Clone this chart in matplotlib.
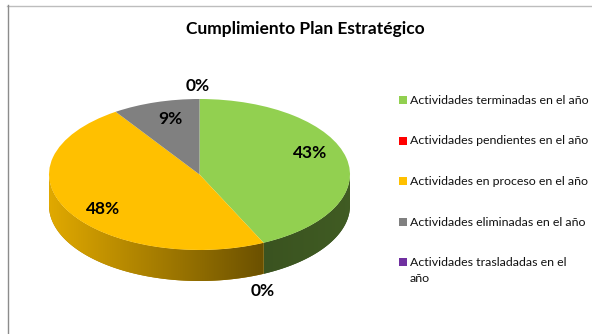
import numpy as np
import matplotlib.pyplot as plt
from matplotlib.colors import to_rgb, LinearSegmentedColormap
from matplotlib.lines import Line2D
from matplotlib.patches import Polygon, Rectangle

categories = ['Actividades terminadas en el año', 'Actividades pendientes en el año',
              'Actividades en proceso en el año', 'Actividades eliminadas en el año',
              'Actividades trasladadas en el\naño']
values = [43.0, 0.0, 47.6, 9.4, 0.0]
labels = ['43%', '0%', '48%', '9%', '0%']
colors = ['#92D050', '#FF0000', '#FFC000', '#808080', '#7030A0']

W, H = 592, 334
cx, cy, rx, ry, depth = 199.5, 174.5, 150.5, 75.5, 31
label_pos = [(310, 153), (263, 291), (103, 209), (170, 119), (198, 86)]
legend_y = [100, 140.5, 181, 222, 262]
# wall shading at the left and right end of each slice
shade = {0: (0.40, 0.44), 2: (0.88, 0.42)}

plt.rcParams['font.family'] = ['Lato', 'DejaVu Sans']

fig = plt.figure(figsize=(W / 100, H / 100), dpi=100)
ax = fig.add_axes([0, 0, 1, 1])

# pie wall, a horizontal gradient clipped to the visible side of each slice
d = depth / ry
edges = np.concatenate([[0], np.cumsum(values)]) / sum(values) * 360
for i, (a0, a1) in enumerate(zip(edges[:-1], edges[1:])):
    a0, a1 = max(a0, 90), min(a1, 270)
    if a1 <= a0:
        continue
    th = np.radians(np.linspace(a0, a1, 200))
    x = np.sin(th)
    y = np.cos(th)
    poly_xy = np.column_stack([np.r_[x, x[::-1]], np.r_[y, y[::-1] - d]])
    base = np.array(to_rgb(colors[i]))
    lo, hi = shade.get(i, (0.6, 0.6))
    cmap = LinearSegmentedColormap.from_list('wall', [base * lo, base * hi])
    poly = Polygon(poly_xy, closed=True, facecolor=base * (lo + hi) / 2, edgecolor='none', zorder=1)
    ax.add_patch(poly)
    img = ax.imshow(np.linspace(0, 1, 256).reshape(1, -1), cmap=cmap, aspect='auto', zorder=1.5,
                    extent=[x.min(), x.max(), y.min() - d, y.max()], interpolation='bilinear')
    img.set_clip_path(poly)

wedges, _ = ax.pie(values, colors=colors, startangle=90, counterclock=False, radius=1)
for w in wedges:
    w.set_zorder(2)

ax.set_aspect('auto')
ax.set_xlim(-cx / rx, (W - cx) / rx)
ax.set_ylim((cy - H) / ry, cy / ry)
ax.axis('off')

fig.text(305 / W, 1 - 29 / H, 'Cumplimiento Plan Estratégico', fontsize=12.5, fontweight='bold',
         ha='center', va='center', color='black')

for txt, (px, py) in zip(labels, label_pos):
    fig.text(px / W, 1 - py / H, txt, fontsize=12.5, fontweight='bold', ha='center', va='center',
             color='black', zorder=5)

for name, col, py in zip(categories, colors, legend_y):
    fig.add_artist(Rectangle((399 / W, 1 - (py + 4) / H), 8 / W, 8 / H, color=col,
                             transform=fig.transFigure, lw=0))
    fig.text(410 / W, 1 - (py - 5) / H, name, fontsize=8.9, ha='left', va='top', color='#111111',
             linespacing=1.6)

# chart frame, only top and left are visible in the crop
fig.add_artist(Line2D([7 / W, 1], [1 - 5.5 / H, 1 - 5.5 / H], color='#BDBDBD', lw=1))
fig.add_artist(Line2D([7.5 / W, 7.5 / W], [0, 1 - 5 / H], color='#8C8C8C', lw=1))

fig.savefig('out.png', dpi=100)
